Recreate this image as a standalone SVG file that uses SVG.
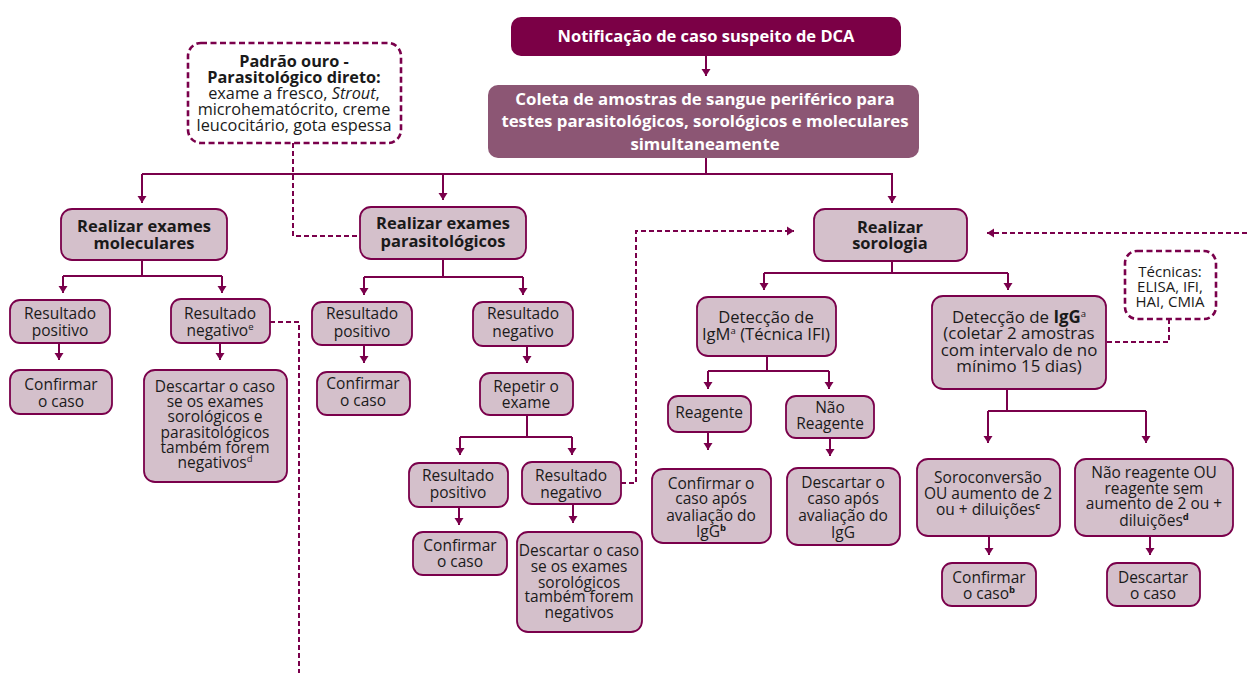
<svg xmlns="http://www.w3.org/2000/svg" width="1247" height="673" viewBox="0 0 1247 673">
<defs>
<marker id="ah" viewBox="-8 -5 9 10" refX="0" refY="0" markerWidth="9" markerHeight="10" markerUnits="userSpaceOnUse" orient="auto">
<path d="M-7,-4.5 L0,0 L-7,4.5 z" fill="#7a004b"/>
</marker>
<style>
.n rect{fill:#d4c0cb;stroke:#7a004b;stroke-width:1.8}
.t{font-family:"Open Sans","Noto Sans","DejaVu Sans",sans-serif;font-size:15.5px;fill:#1a1a1a;text-anchor:middle}
.b{font-weight:700;font-size:16.5px}
.w{fill:#ffffff}
.sup{font-size:9.5px}
.lg{font-size:16.6px}
.c path{stroke:#7a004b;stroke-width:2;fill:none}
.c path.a{marker-end:url(#ah)}
.c path.d{stroke-dasharray:5 3}
.dash rect{fill:#ffffff;stroke:#7a004b;stroke-width:2.6;stroke-dasharray:6 3.5}
</style>
</defs>
<rect width="1247" height="673" fill="#ffffff"/>

<g class="c" id="connectors">
<path class="a" d="M706,56 V76"/>
<path d="M706,158 V174 M142,174 H893"/>
<path class="a" d="M142,174 V203"/>
<path class="a" d="M443,174 V200"/>
<path class="a" d="M892,174 V203"/>
<path d="M142,260 V276 M63,276 H222"/>
<path class="a" d="M63,276 V293"/>
<path class="a" d="M222,276 V293"/>
<path class="a" d="M59,343 V360"/>
<path class="a" d="M220,343 V360"/>
<path class="d" d="M270,322 H299 V673"/>
<path class="d" d="M293,143 V236 H360"/>
<path d="M443,259 V277 M364,277 H523"/>
<path class="a" d="M364,277 V295"/>
<path class="a" d="M523,277 V295"/>
<path class="a" d="M364,345 V363"/>
<path class="a" d="M527,346 V363"/>
<path d="M527,415 V437 M460,437 H572"/>
<path class="a" d="M460,437 V455"/>
<path class="a" d="M572,437 V455"/>
<path class="a" d="M459,507 V525"/>
<path class="a" d="M573,504 V523"/>
<path class="d a" d="M621,483 H636 V231 H794"/>
<path class="d a" d="M1247,233 H987"/>
<path d="M892,261 V273 M764,273 H1008"/>
<path class="a" d="M764,273 V290"/>
<path class="a" d="M1008,273 V290"/>
<path d="M767,356 V371 M708,371 H829"/>
<path class="a" d="M708,371 V389"/>
<path class="a" d="M829,371 V389"/>
<path class="a" d="M708,432 V450"/>
<path class="a" d="M830,438 V456"/>
<path d="M1007,389 V411 M988,411 H1146"/>
<path class="a" d="M988,411 V443"/>
<path class="a" d="M1146,411 V443"/>
<path class="a" d="M989,536 V555"/>
<path class="a" d="M1150,536 V555"/>
<path class="d" d="M1169,319 V342 H1106"/>
</g>

<g id="notificacao">
<rect x="511" y="17" width="390" height="39" rx="10" fill="#7b0046"/>
<text class="t b w" x="706" y="42">Notificação de caso suspeito de DCA</text>
</g>

<g id="coleta">
<rect x="488" y="85" width="431" height="73" rx="10" fill="#8c5674"/>
<text class="t b w" x="705" y="105" style="font-size:16.8px">Coleta de amostras de sangue periférico para</text>
<text class="t b w" x="705" y="127" style="font-size:16.8px">testes parasitológicos, sorológicos e moleculares</text>
<text class="t b w" x="705" y="150" style="font-size:16.8px">simultaneamente</text>
</g>

<g id="padrao-ouro" class="dash">
<rect x="188" y="43" width="213" height="100" rx="13"/>
<text class="t b" x="294" y="67" style="font-size:16.3px">Padrão ouro -</text>
<text class="t b" x="294" y="83" style="font-size:16.3px">Parasitológico direto:</text>
<text class="t" x="294" y="99" style="font-size:16.3px">exame a fresco, <tspan font-style="italic">Strout</tspan>,</text>
<text class="t" x="294" y="115" style="font-size:16.3px">microhematócrito, creme</text>
<text class="t" x="294" y="131" style="font-size:16.3px">leucocitário, gota espessa</text>
</g>

<g id="moleculares" class="n">
<rect x="61" y="209" width="166" height="51" rx="11"/>
<text class="t b" x="144" y="232">Realizar exames</text>
<text class="t b" x="144" y="249">moleculares</text>
</g>

<g id="parasitologicos" class="n">
<rect x="360" y="207" width="166" height="52" rx="11"/>
<text class="t b" x="443" y="229">Realizar exames</text>
<text class="t b" x="443" y="247">parasitológicos</text>
</g>

<g id="sorologia" class="n">
<rect x="814" y="209" width="153" height="52" rx="11"/>
<text class="t b" x="890" y="233">Realizar</text>
<text class="t b" x="890" y="249">sorologia</text>
</g>

<g id="mol-positivo" class="n">
<rect x="10" y="300" width="100" height="43" rx="10"/>
<text class="t" x="60" y="319">Resultado</text>
<text class="t" x="60" y="336">positivo</text>
</g>

<g id="mol-negativo" class="n">
<rect x="171" y="299" width="99" height="44" rx="10"/>
<text class="t" x="220" y="319">Resultado</text>
<text class="t" x="220" y="336">negativo<tspan class="sup" dy="-6">e</tspan></text>
</g>

<g id="mol-confirmar" class="n">
<rect x="10" y="370" width="102" height="44" rx="10"/>
<text class="t" x="61" y="390">Confirmar</text>
<text class="t" x="61" y="407">o caso</text>
</g>

<g id="mol-descartar" class="n">
<rect x="144" y="370" width="143" height="112" rx="11"/>
<text class="t" x="215" y="392">Descartar o caso</text>
<text class="t" x="215" y="407">se os exames</text>
<text class="t" x="215" y="422">sorológicos e</text>
<text class="t" x="215" y="438">parasitológicos</text>
<text class="t" x="215" y="453">também forem</text>
<text class="t" x="215" y="468">negativos<tspan class="sup" dy="-6">d</tspan></text>
</g>

<g id="par-positivo" class="n">
<rect x="312" y="302" width="100" height="43" rx="10"/>
<text class="t" x="362" y="319">Resultado</text>
<text class="t" x="362" y="337">positivo</text>
</g>

<g id="par-negativo" class="n">
<rect x="473" y="302" width="100" height="44" rx="10"/>
<text class="t" x="523" y="319">Resultado</text>
<text class="t" x="523" y="337">negativo</text>
</g>

<g id="par-confirmar" class="n">
<rect x="317" y="372" width="93" height="43" rx="10"/>
<text class="t" x="363" y="389">Confirmar</text>
<text class="t" x="363" y="406">o caso</text>
</g>

<g id="repetir" class="n">
<rect x="480" y="373" width="93" height="42" rx="10"/>
<text class="t" x="526" y="392">Repetir o</text>
<text class="t" x="526" y="408">exame</text>
</g>

<g id="par-positivo2" class="n">
<rect x="409" y="463" width="99" height="44" rx="10"/>
<text class="t" x="458" y="481">Resultado</text>
<text class="t" x="458" y="498">positivo</text>
</g>

<g id="par-negativo2" class="n">
<rect x="522" y="462" width="99" height="42" rx="10"/>
<text class="t" x="571" y="481">Resultado</text>
<text class="t" x="571" y="498">negativo</text>
</g>

<g id="par-confirmar2" class="n">
<rect x="413" y="532" width="94" height="43" rx="10"/>
<text class="t" x="460" y="551">Confirmar</text>
<text class="t" x="460" y="567">o caso</text>
</g>

<g id="par-descartar2" class="n">
<rect x="517" y="532" width="125" height="100" rx="11"/>
<text class="t" x="579" y="556">Descartar o caso</text>
<text class="t" x="579" y="572">se os exames</text>
<text class="t" x="579" y="588">sorológicos</text>
<text class="t" x="579" y="602">também forem</text>
<text class="t" x="579" y="618">negativos</text>
</g>

<g id="igm" class="n">
<rect x="697" y="297" width="139" height="59" rx="11"/>
<text class="t lg" x="766" y="323">Detecção de</text>
<text class="t lg" x="766" y="340">IgM<tspan class="sup" dy="-6">a</tspan><tspan dy="6"> (Técnica IFI)</tspan></text>
</g>

<g id="igg" class="n">
<rect x="932" y="296" width="174" height="93" rx="11"/>
<text class="t lg" x="1019" y="323" style="font-size:16.9px">Detecção de <tspan font-weight="700">IgG</tspan><tspan class="sup" dy="-6">a</tspan></text>
<text class="t lg" x="1019" y="339" style="font-size:16.9px">(coletar 2 amostras</text>
<text class="t lg" x="1019" y="356" style="font-size:16.9px">com intervalo de no</text>
<text class="t lg" x="1019" y="372" style="font-size:16.9px">mínimo 15 dias)</text>
</g>

<g id="tecnicas" class="dash">
<rect x="1125" y="251" width="91" height="68" rx="12"/>
<text class="t" x="1170" y="277" style="font-size:15px">Técnicas:</text>
<text class="t" x="1170" y="292" style="font-size:15px">ELISA, IFI,</text>
<text class="t" x="1170" y="307" style="font-size:15px">HAI, CMIA</text>
</g>

<g id="reagente" class="n">
<rect x="668" y="396" width="83" height="36" rx="10"/>
<text class="t" x="709" y="418">Reagente</text>
</g>

<g id="nao-reagente" class="n">
<rect x="786" y="396" width="88" height="42" rx="10"/>
<text class="t" x="830" y="413">Não</text>
<text class="t" x="830" y="429">Reagente</text>
</g>

<g id="igm-confirmar" class="n">
<rect x="652" y="469" width="119" height="74" rx="11"/>
<text class="t" x="711" y="489">Confirmar o</text>
<text class="t" x="711" y="504">caso após</text>
<text class="t" x="711" y="521">avaliação do</text>
<text class="t" x="711" y="537">IgG<tspan class="sup" font-weight="700" dy="-6">b</tspan></text>
</g>

<g id="igm-descartar" class="n">
<rect x="787" y="468" width="113" height="77" rx="11"/>
<text class="t" x="843" y="488">Descartar o</text>
<text class="t" x="843" y="504">caso após</text>
<text class="t" x="843" y="521">avaliação do</text>
<text class="t" x="843" y="538">IgG</text>
</g>

<g id="soroconversao" class="n">
<rect x="917" y="459" width="143" height="77" rx="11"/>
<text class="t" x="988" y="483">Soroconversão</text>
<text class="t" x="988" y="499">OU aumento de 2</text>
<text class="t" x="988" y="515">ou + diluições<tspan class="sup" font-weight="700" dy="-6">c</tspan></text>
</g>

<g id="nao-reagente-igg" class="n">
<rect x="1075" y="459" width="158" height="77" rx="11"/>
<text class="t" x="1154" y="478">Não reagente OU</text>
<text class="t" x="1154" y="494">reagente sem</text>
<text class="t" x="1154" y="509">aumento de 2 ou +</text>
<text class="t" x="1154" y="526">diluições<tspan class="sup" font-weight="700" dy="-6">d</tspan></text>
</g>

<g id="igg-confirmar" class="n">
<rect x="942" y="563" width="94" height="43" rx="10"/>
<text class="t" x="989" y="583">Confirmar</text>
<text class="t" x="989" y="599">o caso<tspan class="sup" font-weight="700" dy="-6">b</tspan></text>
</g>

<g id="igg-descartar" class="n">
<rect x="1107" y="563" width="93" height="43" rx="10"/>
<text class="t" x="1153" y="583">Descartar</text>
<text class="t" x="1153" y="599">o caso</text>
</g>
</svg>
